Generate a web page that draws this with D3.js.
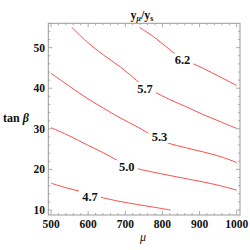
<!DOCTYPE html>
<html><head><meta charset="utf-8">
<script src="https://cdn.jsdelivr.net/npm/d3@7"></script>
<style>body{margin:0;background:#fff}svg{display:block}</style>
</head><body>
<script>
const xTicks = [500, 600, 700, 800, 900, 1000];
const yTicks = [10, 20, 30, 40, 50];
const levels = ["4.7", "5.0", "5.3", "5.7", "6.2"];
// contour points [mu, tanBeta]
const c47 = [[500,16.6],[540,15.5],[574,14.7],[627,13.3],[686,12.1],[730,11.4],[776,10.7],[822,10.0]];
const c50 = [[500,30.3],[551,28.2],[596,26.1],[641,24.1],[677,22.3],[704,20.9],[732,20.2],[776,19.3],[820,18.5],[865,17.7],[910,16.9],[955,16.0],[1000,14.9]];
const c53 = [[500,43.7],[551,40.4],[596,37.6],[641,35.1],[686,32.7],[732,30.5],[780,28.0],[812,26.6],[865,25.3],[910,24.3],[955,23.2],[1000,21.7]];
const c57 = [[556,55],[596,51.5],[641,48.2],[686,45.3],[722,42.6],[753,40.2],[776,39.2],[820,37.2],[865,35.4],[910,33.5],[955,31.8],[1000,30.1]];
const c62 = [[738,55],[776,52.7],[820,49.5],[853,47.3],[879,46.2],[910,44.9],[955,42.8],[1000,40.7]];
const contours = [c47, c50, c53, c57, c62];
// label anchor positions [mu, tanBeta]
const labelPos = [[605,13.4],[704,20.8],[792,28.0],[753,40.0],[854,47.1]];

const W = 250, H = 250;
const svg = d3.select("body").append("svg").attr("width", W).attr("height", H);
const L = 48.3, R = 240, T = 23.3, B = 215;
const x = d3.scaleLinear().domain([492.7, 1008.9]).range([L, R]);
const y = d3.scaleLinear().domain([8.77, 56.0]).range([B, T]);
const serif = "'Liberation Serif','DejaVu Serif',serif";

// contours
const line = d3.line().x(d => x(d[0])).y(d => y(d[1])).curve(d3.curveCatmullRom);
svg.append("g").selectAll("path").data(contours).join("path")
  .attr("d", line).attr("fill", "none").attr("stroke", "#ff4d4d").attr("stroke-width", 1);

// labels with white background
const lg = svg.append("g");
levels.forEach((t, i) => {
  const px = x(labelPos[i][0]), py = y(labelPos[i][1]);
  lg.append("rect").attr("x", px - 11).attr("y", py - 6).attr("width", 22).attr("height", 12).attr("fill", "#fff");
  lg.append("text").attr("x", px).attr("y", py).attr("dy", "0.35em").attr("text-anchor", "middle")
    .attr("font-family", serif).attr("font-weight", "bold").attr("font-size", 12.5).attr("fill", "#111").text(t);
});

// frame
svg.append("rect").attr("x", L).attr("y", T).attr("width", R - L).attr("height", B - T)
  .attr("fill", "none").attr("stroke", "#999").attr("stroke-width", 1);

// ticks (inside, on all sides)
const tk = svg.append("g").attr("stroke", "#999").attr("stroke-width", 0.8);
const xMinor = d3.range(500, 1001, 20), yMinor = d3.range(10, 56, 2);
xMinor.forEach(v => {
  const len = xTicks.includes(v) ? 4 : 2;
  tk.append("line").attr("x1", x(v)).attr("x2", x(v)).attr("y1", B).attr("y2", B - len);
  tk.append("line").attr("x1", x(v)).attr("x2", x(v)).attr("y1", T).attr("y2", T + len);
});
yMinor.forEach(v => {
  const len = yTicks.includes(v) ? 4 : 2;
  tk.append("line").attr("y1", y(v)).attr("y2", y(v)).attr("x1", L).attr("x2", L + len);
  tk.append("line").attr("y1", y(v)).attr("y2", y(v)).attr("x1", R).attr("x2", R - len);
});

// tick labels
svg.append("g").selectAll("text").data(xTicks).join("text")
  .attr("x", d => x(d)).attr("y", 223.5).attr("dy", "0.35em").attr("text-anchor", "middle")
  .attr("font-family", serif).attr("font-weight", "bold").attr("font-size", 11.5).attr("fill", "#111").text(d => d);
svg.append("g").selectAll("text").data(yTicks).join("text")
  .attr("x", 45).attr("y", d => y(d)).attr("dy", "0.35em").attr("text-anchor", "end")
  .attr("font-family", serif).attr("font-weight", "bold").attr("font-size", 11.5).attr("fill", "#111").text(d => d);

// axis labels
svg.append("text").attr("x", 143).attr("y", 237).attr("dy", "0.35em").attr("text-anchor", "middle")
  .attr("font-family", serif).attr("font-style", "italic").attr("font-size", 12).attr("fill", "#111").text("μ");
const yl = svg.append("text").attr("x", 3).attr("y", 118).attr("dy", "0.35em")
  .attr("font-family", serif).attr("font-weight", "bold").attr("font-size", 12).attr("fill", "#111");
yl.append("tspan").text("tan ");
yl.append("tspan").attr("font-style", "italic").text("β");
const tl = svg.append("text").attr("x", 142).attr("y", 19).attr("text-anchor", "middle")
  .attr("font-family", serif).attr("font-weight", "bold").attr("font-size", 12).attr("fill", "#111");
tl.append("tspan").text("y");
tl.append("tspan").attr("font-size", 8).attr("dy", 2).attr("font-style", "italic").text("μ");
tl.append("tspan").attr("dy", -2).text("/y");
tl.append("tspan").attr("font-size", 8).attr("dy", 2).text("s");
</script>
</body></html>
